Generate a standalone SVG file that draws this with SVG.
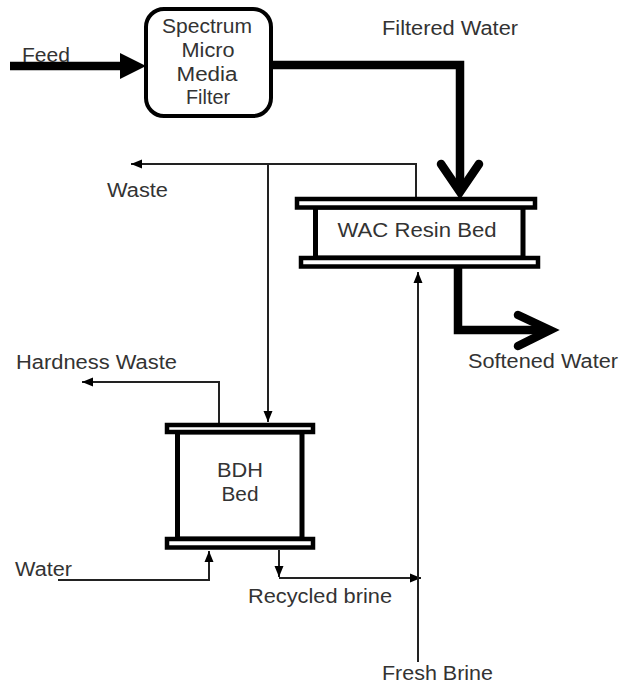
<svg xmlns="http://www.w3.org/2000/svg" width="621" height="686" viewBox="0 0 621 686">
<style>
text{font-family:"Liberation Sans",Arial,sans-serif;font-size:20px;fill:#333}
.c{text-anchor:middle}
.thin{fill:none;stroke:#222;stroke-width:2}
.thick{fill:none;stroke:#000;stroke-width:8.5}
.plate{fill:#fff;stroke:#000;stroke-width:4.5}
.wall{fill:#fff;stroke:#000;stroke-width:5}
</style>
<defs>
<marker id="ah" markerUnits="userSpaceOnUse" markerWidth="12" markerHeight="12" viewBox="0 0 12 12" refX="11" refY="6" orient="auto">
<path d="M0,1.5 L11,6 L0,10.5 Z" fill="#000"/>
</marker>
</defs>
<rect width="621" height="686" fill="#fff"/>

<g id="connectors">
<!-- Feed -->
<line class="thick" x1="10" y1="66" x2="124" y2="66"/>
<path d="M120,53 L146,66 L120,79 Z" fill="#000"/>
<!-- Filtered water -->
<polyline class="thick" points="272,65 460,65 460,190" stroke-linejoin="miter"/>
<polyline class="thick" points="441,164 460,192 479,164" stroke-linejoin="miter" stroke-linecap="round"/>
<!-- Softened water -->
<polyline class="thick" points="458,268 458,330 548,330" stroke-linejoin="miter"/>
<polyline class="thick" points="518,315 550,330 518,346" stroke-linejoin="miter" stroke-linecap="round"/>
<!-- Waste -->
<polyline class="thin" points="416,197 416,164 131,164" marker-end="url(#ah)"/>
<line class="thin" x1="268" y1="164" x2="268" y2="422" marker-end="url(#ah)"/>
<!-- Hardness waste -->
<polyline class="thin" points="219,423 219,382 82,382" marker-end="url(#ah)"/>
<!-- Water -->
<polyline class="thin" points="58,580 209,580 209,551" marker-end="url(#ah)"/>
<!-- Recycled brine -->
<line class="thin" x1="279" y1="550" x2="279" y2="577" marker-end="url(#ah)"/>
<line class="thin" x1="279" y1="578" x2="421" y2="578" marker-end="url(#ah)"/>
<!-- Fresh brine -->
<line class="thin" x1="418" y1="662" x2="418" y2="272" marker-end="url(#ah)"/>
</g>

<g id="filter">
<rect x="146" y="9" width="125" height="107" rx="18" ry="18" fill="#fff" stroke="#000" stroke-width="4"/>
<text class="c" x="207" y="33" textLength="90" lengthAdjust="spacingAndGlyphs">Spectrum</text>
<text class="c" x="208" y="57" textLength="53" lengthAdjust="spacingAndGlyphs">Micro</text>
<text class="c" x="207" y="81" textLength="61" lengthAdjust="spacingAndGlyphs">Media</text>
<text class="c" x="208" y="104" textLength="44" lengthAdjust="spacingAndGlyphs">Filter</text>
</g>

<g id="wac">
<rect class="wall" x="315.5" y="207" width="207.5" height="51"/>
<rect class="plate" x="297" y="199" width="238" height="8.5"/>
<rect class="plate" x="301" y="258" width="237" height="8.5"/>
<text class="c" x="417" y="237" textLength="159" lengthAdjust="spacingAndGlyphs">WAC Resin Bed</text>
</g>

<g id="bdh">
<rect class="wall" x="177.5" y="432" width="124.5" height="107"/>
<rect class="plate" x="167" y="425" width="146" height="7"/>
<rect class="plate" x="167" y="539" width="146" height="8.5"/>
<text class="c" x="240" y="477" textLength="46" lengthAdjust="spacingAndGlyphs">BDH</text>
<text class="c" x="240" y="501" textLength="37" lengthAdjust="spacingAndGlyphs">Bed</text>
</g>

<g id="labels">
<text x="22" y="62" textLength="48" lengthAdjust="spacingAndGlyphs">Feed</text>
<text x="382" y="35" textLength="136" lengthAdjust="spacingAndGlyphs">Filtered Water</text>
<text x="107" y="197" textLength="61" lengthAdjust="spacingAndGlyphs">Waste</text>
<text x="16" y="369" textLength="161" lengthAdjust="spacingAndGlyphs">Hardness Waste</text>
<text x="468" y="368" textLength="150" lengthAdjust="spacingAndGlyphs">Softened Water</text>
<text x="15" y="576" textLength="57" lengthAdjust="spacingAndGlyphs">Water</text>
<text x="248" y="603" textLength="144" lengthAdjust="spacingAndGlyphs">Recycled brine</text>
<text x="382" y="680" textLength="111" lengthAdjust="spacingAndGlyphs">Fresh Brine</text>
</g>
</svg>
